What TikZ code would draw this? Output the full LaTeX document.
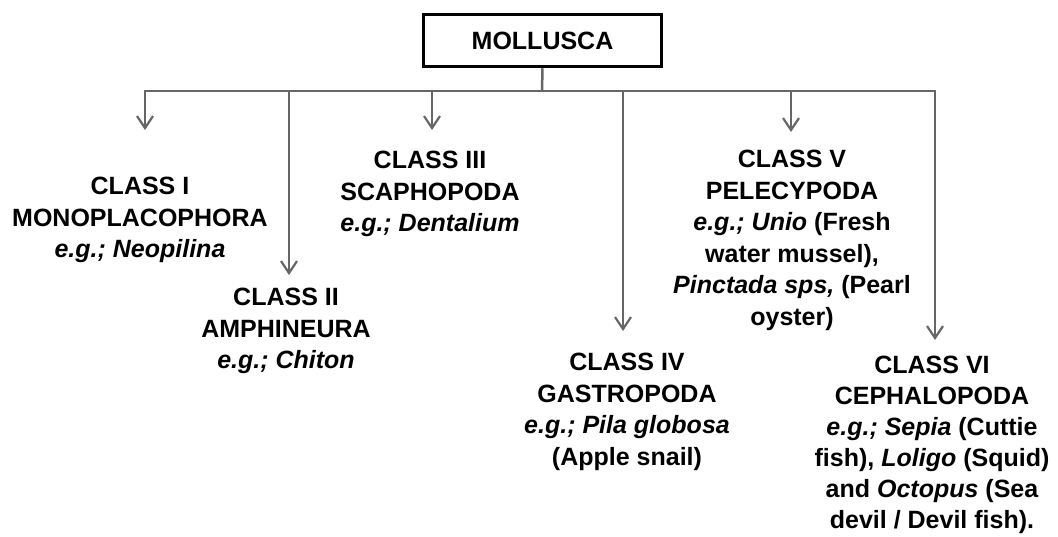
\documentclass[tikz,border=0pt]{standalone}
\usepackage{fontspec}
\setmainfont{Liberation Sans}
\usetikzlibrary{arrows.meta}
\definecolor{linegray}{HTML}{666666}
\begin{document}
\begin{tikzpicture}[x=1pt,y=-1pt,
  txt/.style={font=\fontsize{25}{31.5}\selectfont\bfseries},
  cls/.style={txt, align=center, inner sep=0pt, anchor=north},
  rootbox/.style={txt, draw=black, line width=3.5pt, minimum width=238pt, minimum height=52pt, inner sep=0pt},
  link/.style={draw=linegray, line width=2.5pt},
  arr/.style={link, -{Straight Barb[length=12pt,width=16pt,line width=2.2pt]}}
]
\useasboundingbox (0,0) rectangle (1058,536);

\node[rootbox] (root) at (542.5,40.5) {MOLLUSCA};

% bus coordinates
\coordinate (bus) at (542,91);
\coordinate (d1) at (145,91);
\coordinate (d2) at (289,91);
\coordinate (d3) at (432,91);
\coordinate (d4) at (623,91);
\coordinate (d5) at (791,91);
\coordinate (d6) at (935,91);
% arrow tips
\coordinate (t1) at (145,130);
\coordinate (t2) at (289,275);
\coordinate (t3) at (432,130);
\coordinate (t4) at (623,331);
\coordinate (t5) at (791,132);
\coordinate (t6) at (935,340);

\node[cls] (c1) at (140,177) {CLASS I\\MONOPLACOPHORA\\\textit{e.g.; Neopilina}};
\node[cls] (c2) at (286,288) {CLASS II\\AMPHINEURA\\\textit{e.g.; Chiton}};
\node[cls] (c3) at (430,151) {CLASS III\\SCAPHOPODA\\\textit{e.g.; Dentalium}};
\node[cls] (c4) at (627,353) {CLASS IV\\GASTROPODA\\\textit{e.g.; Pila globosa}\\(Apple snail)};
\node[cls] (c5) at (792,150) {CLASS V\\PELECYPODA\\\textit{e.g.; Unio} (Fresh\\water mussel),\\\textit{Pinctada sps,} (Pearl\\oyster)};
\node[cls, font=\fontsize{25}{31}\selectfont\bfseries] (c6) at (932,356) {CLASS VI\\CEPHALOPODA\\\textit{e.g.; Sepia} (Cuttie\\fish), \textit{Loligo} (Squid)\\and \textit{Octopus} (Sea\\devil / Devil fish).};

\draw[link] (root.south) -- (bus);
\draw[arr] (bus) -- (d1) -- (t1);
\draw[arr] (bus) -- (d6) -- (t6);
\draw[arr] (d2) -- (t2);
\draw[arr] (d3) -- (t3);
\draw[arr] (d4) -- (t4);
\draw[arr] (d5) -- (t5);
\end{tikzpicture}
\end{document}
